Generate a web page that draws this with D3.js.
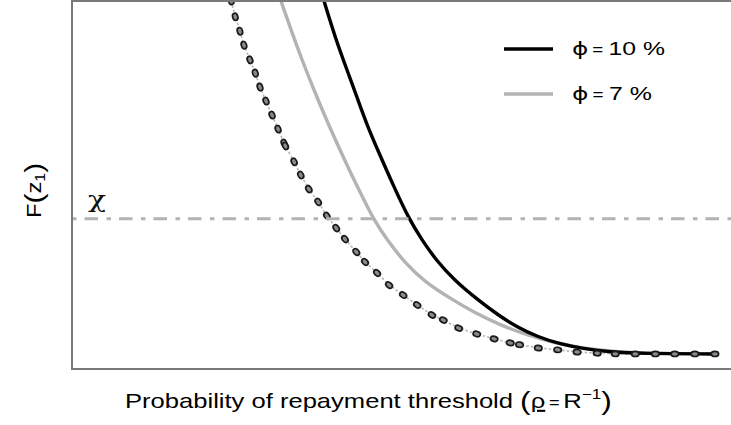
<!DOCTYPE html>
<html><head><meta charset="utf-8">
<script src="https://cdn.jsdelivr.net/npm/d3@7"></script>
<style>body{margin:0;background:#fff}svg{display:block;font-family:"Liberation Sans",Arial,sans-serif}</style>
</head><body>
<svg id="c" width="731" height="425"></svg>
<script>
// values, in plot units 0-100 (x: rho, y: F(z1))
const phi10X = [37.67,39.46,41.11,42.75,44.10,45.89,48.13,50.37,52.32,54.41,57.10,60.69,63.68,66.52,69.66,72.94,76.68,80.42,84.90,96.11];
const phi10Y = [100,89.40,81.25,73.10,66.30,58.70,49.46,40.76,35.05,29.62,24.18,18.75,14.67,11.41,8.70,6.79,5.43,4.62,4.21,4.08];
const phi7X = [31.24,32.74,34.38,36.17,38.04,40.06,42.15,43.65,45.07,47.09,49.78,52.77,56.20,60.24,63.98,68.01,72.20,76.23,80.42,84.90,96.11];
const phi7Y = [100,92.12,83.97,75.82,67.66,59.51,51.36,45.92,40.76,35.05,28.80,23.64,19.57,15.22,11.96,9.24,7.07,5.71,4.89,4.35,4.08];
const baseX = [23.8,24.4,25.1,25.7,26.6,27.4,28.1,29.0,29.9,30.8,31.7,31.9,33.2,34.2,35.4,36.8,38.1,39.5,40.8,42.5,43.8,45.6,47.4,49.5,51.6,53.8,55.5,57.8,60.5,63.1,65.5,66.9,69.7,72.6,75.5,78.5,81.2,84.2,87.2,90.1,93.1,96.1];
const baseY = [100,95.7,91.8,88.0,84.0,80.4,76.6,72.8,69.0,65.2,61.4,60.6,56.3,52.7,48.9,45.4,41.6,38.3,35.3,31.8,29.1,26.1,22.8,20.1,17.4,14.7,13.3,11.1,9.5,8.2,7.1,6.6,5.7,5.2,4.6,4.3,4.1,4.1,4.1,4.1,4.1,4.1];
const chiValue = 40.8;
const legendLabels = ["10 %","7 %"];
const xLabel = "Probability of repayment threshold";

const svg = d3.select("#c");
const x = d3.scaleLinear().domain([0,100]).range([72,741]);
const y = d3.scaleLinear().domain([0,100]).range([369,1]);

svg.append("clipPath").attr("id","clip").append("rect")
  .attr("x",72).attr("y",1).attr("width",700).attr("height",368);

const g = svg.append("g").attr("clip-path","url(#clip)");
const line = d3.line().x(d=>x(d[0])).y(d=>y(d[1])).curve(d3.curveBasis);
const zip = (a,b)=>a.map((v,i)=>[v,b[i]]);

// fit helper: horizontally scale a text so its bbox spans [x0,x1]
function fitX(sel, x0, x1){
  const bb = sel.node().getBBox();
  const s = (x1-x0)/bb.width;
  sel.attr("transform",`translate(${x0},0) scale(${s},1) translate(${-bb.x},0)`);
}

// chi line
svg.append("line").attr("x1",x(0)).attr("x2",731).attr("y1",y(chiValue)).attr("y2",y(chiValue))
  .attr("stroke","#b3b3b3").attr("stroke-width",3).attr("stroke-dasharray","4.5,8,13.5,8.5");
const chi = svg.append("text").attr("x",87).attr("y",207).attr("font-size",22).attr("fill","#111")
  .attr("font-family","DejaVu Serif").text("χ");
fitX(chi, 88, 106);

// baseline dotted series
const base = zip(baseX,baseY);
g.append("path").attr("d",line(base)).attr("fill","none").attr("stroke","#b8b8b8")
  .attr("stroke-width",1.6).attr("stroke-dasharray","2.5,2");

g.append("path").attr("d",line(zip(phi7X,phi7Y))).attr("fill","none").attr("stroke","#b3b3b3").attr("stroke-width",3.4);
g.append("path").attr("d",line(zip(phi10X,phi10Y))).attr("fill","none").attr("stroke","#000").attr("stroke-width",3.4);

// markers for baseline
g.selectAll("ellipse").data(base).join("ellipse")
  .attr("rx",3.7).attr("ry",2.6).attr("fill","#8a8a8a").attr("stroke","#1a1a1a").attr("stroke-width",1.7)
  .attr("transform",(d,i)=>{
    const a = base[Math.max(0,i-1)], b = base[Math.min(base.length-1,i+1)];
    const ang = Math.atan2(y(b[1])-y(a[1]), x(b[0])-x(a[0]))*180/Math.PI;
    return `translate(${x(d[0])},${y(d[1])}) rotate(${ang})`;
  });

// frame
svg.append("path").attr("d",`M760,1H72V369H760`).attr("fill","none").attr("stroke","#7a7a7a").attr("stroke-width",2);

// legend
const leg = svg.append("g");
[["#000",49,665],["#b3b3b3",94,652]].forEach((s,i)=>{
  leg.append("line").attr("x1",504).attr("x2",553).attr("y1",s[1]).attr("y2",s[1]).attr("stroke",s[0]).attr("stroke-width",3.6);
  const t = leg.append("text").attr("x",571).attr("y",s[1]+6.5).attr("font-size",18.5).attr("fill","#000");
  t.append("tspan").attr("font-family","DejaVu Sans").text("ϕ");
  t.append("tspan").attr("font-size",14).attr("dx",3).text("=");
  t.append("tspan").attr("dx",4).text(legendLabels[i]);
  fitX(t, 572, s[2]);
});

// x label
const xl = svg.append("text").attr("x",125).attr("y",408).attr("font-size",21).attr("fill","#000");
xl.append("tspan").text(xLabel+" ");
xl.append("tspan").attr("font-size",26).attr("dy",2).text("(");
xl.append("tspan").attr("dy",-2).attr("text-decoration","underline").text("ρ");
xl.append("tspan").attr("font-size",15).attr("dx",3).text("=");
xl.append("tspan").attr("dx",3).text("R");
xl.append("tspan").attr("font-size",14).attr("dy",-9).text("−1");
xl.append("tspan").attr("font-size",26).attr("dy",11).text(")");
fitX(xl, 125, 612);

// y label (rotated)
const ylg = svg.append("g").attr("transform","translate(41,0) rotate(-90)");
const yl = ylg.append("text").attr("x",0).attr("y",0).attr("font-size",21).attr("fill","#000");
yl.append("tspan").text("F");
yl.append("tspan").attr("font-size",26).attr("dy",2).text("(");
yl.append("tspan").attr("dy",-2).text("z");
yl.append("tspan").attr("font-size",14).attr("dy",4).text("1");
yl.append("tspan").attr("font-size",26).attr("dy",-2).text(")");
fitX(yl, -218, -163);
</script>
</body></html>
